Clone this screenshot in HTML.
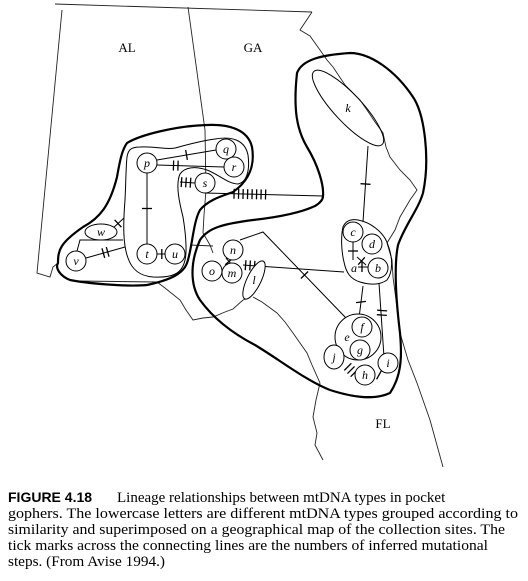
<!DOCTYPE html>
<html><head><meta charset="utf-8"><style>
html,body{margin:0;padding:0;background:#fff;}
svg{display:block;}
.map{fill:none;stroke:#222;stroke-width:0.9;}
.out{fill:none;stroke:#000;stroke-width:2.2;}
.in{fill:none;stroke:#000;stroke-width:1;}
.ln{stroke:#000;stroke-width:1;fill:none;}
.nd{fill:#fff;stroke:#000;stroke-width:1;}
.lb{font-family:"Liberation Serif",serif;font-style:italic;font-size:12px;text-anchor:middle;}
.st{font-family:"Liberation Serif",serif;font-size:13px;text-anchor:middle;}
.cap{font-family:"Liberation Serif",serif;font-size:15px;}
</style></head><body>
<svg id="fig" width="528" height="581" viewBox="0 0 528 581">
<g>
<path class="map" d="M55,4 L312,12"/>
<path class="map" d="M62,10 L37,273 L50,277 L53,267 L58,263"/>
<path class="map" d="M188,7 L205,130 L206,190 L204,215 L203,233 L210,245 L213,253"/>
<path class="map" d="M312,12 L300,30 L310,36 L320,50 L327,60 L333,67 L345,85 L360,100 L367,110 L375,122 L383,133 L386,147 L390,157 L400,170 L410,180 L417,190 L410,200 L400,217 L395,230 L387,243 L392,260 L393,277 L396,300 L400,333 L408,360 L417,383 L430,420 L443,467"/>
<path class="map" d="M77,281 L157,282 L165,288 L180,300 L186,310 L193,320 L203,318 L213,317 L225,312 L233,309 L243,300 L250,297"/>
<path class="map" d="M253,297 L262,302 L277,313 L285,322 L293,333 L300,343 L307,353 L312,365 L320,383 L316,400 L313,417 L317,433 L315,445 L323,460"/>
<path class="map" d="M190,245 L213,246"/>
</g>
<text class="st" x="127" y="52">AL</text>
<text class="st" x="253" y="52">GA</text>
<text class="st" x="383" y="428">FL</text>

<path class="out" d="M127,143 C140,135 175,126 207,125 C230,124 248,130 252,147 C255,165 250,180 233,192 C222,196 208,200 200,210 C193,222 192,250 187,263 C183,274 170,280 147,285 C125,287 85,283 70,280 C60,276 55,268 58,263 C58,250 60,243 83,227 C100,218 110,205 117,177 C120,160 122,150 127,143 Z"/>
<path class="in" d="M127,157 C128,150 131,147 140,147 C155,146 165,150 175,148 C190,144 200,141 215,139 C232,136 245,140 248,155 C250,170 247,182 238,184 C228,184 218,174 207,170 C195,166 185,167 180,174 C175,185 180,205 183,217 C186,235 187,252 185,260 C182,274 172,278 153,277 C140,276 132,270 128,258 C123,245 123,225 125,200 C126,180 126,165 127,157 Z"/>
<path class="out" d="M323,196 C324,185 318,165 307,147 C297,130 293,110 297,73 C302,60 320,55 350,53 C370,53 395,70 413,97 C425,115 430,160 423,193 C418,210 405,225 398,245 C394,265 396,300 400,333 C402,355 402,375 390,393 C375,400 355,398 330,390 C305,380 280,360 255,345 C232,333 213,318 200,300 C190,285 190,262 200,240 C208,228 222,224 253,220 C280,217 300,213 315,206 C320,203 323,200 323,196 Z"/>

<g>
<path class="ln" d="M157,160 L216,150"/>
<path class="ln" d="M157,165 L224,167"/>
<path class="ln" d="M180,182 L195,183"/>
<path class="ln" d="M147,173 L147,244"/>
<path class="ln" d="M157,254 L165,254"/>
<path class="ln" d="M112,229 L124,218"/>
<path class="ln" d="M86,258 L125,247"/>
<path class="ln" d="M77,251 L80,240 L123,240"/>
<path class="ln" d="M205,193 L323,196"/>
<path class="ln" d="M368,146 L363,222"/>
<path class="ln" d="M240,240 L263,232 L346,318"/>
<path class="ln" d="M243,265 L344,272"/>
<path class="ln" d="M363,286 L359,318"/>
<path class="ln" d="M379,283 L384,357"/>
<path class="ln" d="M353,242 L353,260"/>
<path class="ln" d="M358,267 L368,267"/>
<path class="ln" d="M357,257 L366,265"/>
<path class="ln" d="M226,258 L232,265"/>
</g>
<g id="ticks"></g>

<g>
<ellipse class="in" cx="348" cy="108" rx="50" ry="14" transform="rotate(47 348 108)"/>
<text class="lb" x="348" y="112">k</text>
<path class="in" d="M343,227 C346,220 352,219 358,220 C370,222 384,232 388,245 C393,258 393,272 387,280 C380,285 370,285 360,282 C350,279 346,272 344,262 C341,250 341,235 343,227 Z"/>
<circle class="nd" cx="358" cy="337" r="23"/>
<text class="lb" x="347" y="341">e</text>
<ellipse class="nd" cx="101" cy="232" rx="16" ry="8"/>
<text class="lb" x="101" y="236">w</text>
<ellipse class="nd" cx="254" cy="280" rx="21" ry="7" transform="rotate(-64 254 280)"/>
<text class="lb" x="254" y="284">l</text>
<ellipse class="nd" cx="334" cy="357" rx="10" ry="12"/>
<text class="lb" x="334" y="361">j</text>
<text class="lb" x="354" y="272">a</text>
</g>
<g id="circles"></g>

<g>
<text x="8" y="502"><tspan style="font-family:'Liberation Sans',sans-serif;font-weight:bold;font-size:14px">FIGURE 4.18</tspan><tspan class="cap" x="117">Lineage relationships between mtDNA types in pocket</tspan></text>
<text class="cap" x="8" y="518" textLength="510" lengthAdjust="spacingAndGlyphs">gophers. The lowercase letters are different mtDNA types grouped according to</text>
<text class="cap" x="8" y="534" textLength="497" lengthAdjust="spacingAndGlyphs">similarity and superimposed on a geographical map of the collection sites. The</text>
<text class="cap" x="8" y="550" textLength="480" lengthAdjust="spacingAndGlyphs">tick marks across the connecting lines are the numbers of inferred mutational</text>
<text class="cap" x="8" y="566" textLength="157" lengthAdjust="spacingAndGlyphs">steps. (From Avise 1994.)</text>
</g>
</svg>
<script>
var NS='http://www.w3.org/2000/svg';
var nodeNames=['p','q','r','s','t','u','v','n','o','m','c','d','b','f','g','h','i'];
var nodeX=[147,226,234,205,147,175,76,233,212,232,353,372,378,362,360,365,388];
var nodeY=[163,149,167,183,254,254,261,250,271,273,232,244,268,327,350,375,363];
var tickX1=[216,224,195,147,165,124,125,323,368,263,353,358,357,359,384,347,370,243,226];
var tickY1=[150,167,183,173,254,218,247,196,146,232,242,267,257,286,284,366,370,265,258];
var tickX2=[157,157,180,147,157,112,86,205,363,346,353,368,366,363,379,355,388,344,232];
var tickY2=[160,165,182,244,254,229,258,193,222,318,260,267,265,318,356,374,380,272,265];
var tickCount=[1,2,3,1,1,1,2,8,1,1,1,1,1,1,2,3,1,3,1];
var tickPos=[0.5,0.72,0.6,0.5,0.4,0.5,0.5,0.62,0.5,0.5,0.5,0.4,0.5,0.5,0.4,0.5,0.5,0.07,0.5];
var tg=document.getElementById('ticks');
for(var k=0;k<tickCount.length;k++){
  var x1=tickX1[k],y1=tickY1[k],x2=tickX2[k],y2=tickY2[k];
  var dx=x2-x1,dy=y2-y1,L=Math.sqrt(dx*dx+dy*dy),ux=dx/L,uy=dy/L;
  var n=tickCount[k],cx=x1+dx*tickPos[k],cy=y1+dy*tickPos[k];
  for(var j=0;j<n;j++){
    var off=(j-(n-1)/2)*4.5;
    var px=cx+ux*off,py=cy+uy*off;
    var t=document.createElementNS(NS,'line');
    t.setAttribute('x1',px-uy*5);t.setAttribute('y1',py+ux*5);
    t.setAttribute('x2',px+uy*5);t.setAttribute('y2',py-ux*5);
    t.setAttribute('stroke','#000');t.setAttribute('stroke-width','1.3');
    
    
    tg.appendChild(t);
  }
}
var cg=document.getElementById('circles');
for(var i=0;i<nodeNames.length;i++){
  var c=document.createElementNS(NS,'circle');
  c.setAttribute('cx',nodeX[i]);c.setAttribute('cy',nodeY[i]);c.setAttribute('r',10);
  c.setAttribute('class','nd');
  
  
  cg.appendChild(c);
  var tx=document.createElementNS(NS,'text');
  tx.setAttribute('x',nodeX[i]);tx.setAttribute('y',nodeY[i]+4);
  tx.setAttribute('class','lb');
  tx.textContent=nodeNames[i];
  
  
  cg.appendChild(tx);
}
</script>
</body></html>
